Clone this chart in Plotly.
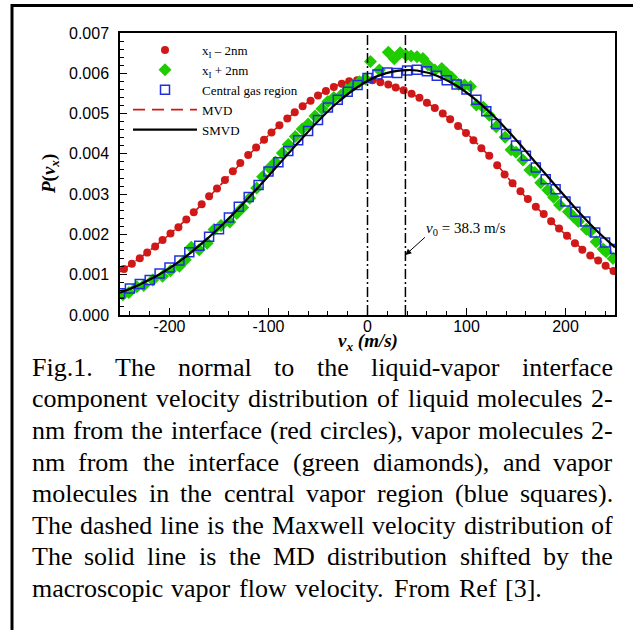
import plotly.graph_objects as go

# ---------------- data ----------------
red_v = [-246, -238, -230, -222.5, -214.5, -207, -199, -191, -183, -175.5,
         -167.5, -160, -152, -144, -136, -128.5, -120.5, -112.5, -104.5, -97,
         -89, -81, -73.5, -65.5, -57.5, -50, -42, -34, -26, -18.5,
         -10.5, -2.5, 5, 13, 21, 28.5, 36.5, 44.5, 52.5, 60,
         68, 76, 83.5, 91.5, 99.5, 107, 115, 123, 131, 138.5,
         146.5, 154.5, 162, 170, 178, 185.5, 193.5, 201.5, 209.5, 217,
         225, 233, 240.5, 248.5]
red_p = [0.00114, 0.00127, 0.00141, 0.00155, 0.00170, 0.00186, 0.00202, 0.00218, 0.00237, 0.00255,
         0.00275, 0.00295, 0.00314, 0.00335, 0.00357, 0.00377, 0.00397, 0.00416, 0.00435, 0.00453,
         0.00471, 0.00488, 0.00503, 0.00518, 0.00532, 0.00545, 0.00556, 0.00566, 0.00574, 0.00580,
         0.00583, 0.00584, 0.00583, 0.00578, 0.00572, 0.00565, 0.00558, 0.00549, 0.00539, 0.00527,
         0.00514, 0.00500, 0.00486, 0.00469, 0.00452, 0.00434, 0.00414, 0.00395, 0.00372, 0.00349,
         0.00327, 0.00307, 0.00288, 0.00269, 0.00251, 0.00233, 0.00215, 0.00197, 0.00178, 0.00162,
         0.00148, 0.00135, 0.00122, 0.00109]

green_v = [-247, -241, -233, -226, -217, -207, -199, -190, -184, -178,
           -170, -162, -155, -148, -139, -132, -126, -119, -112, -106,
           -99, -93, -86, -80, -73, -66, -60, -53, -46, -40,
           -34, -27, -21, -14, -8, -2,
           3, 12, 21, 27, 33, 39, 44, 50, 56, 61,
           68, 75, 80, 85, 92, 98, 104, 110, 117, 123,
           130, 139, 145, 150, 157, 164, 169, 175, 182, 188,
           194, 203, 208, 213, 221, 225, 231, 238, 241, 248]
green_p = [0.00050, 0.00056, 0.00070, 0.00073, 0.00087, 0.00096, 0.00110, 0.00121, 0.00137, 0.00168,
           0.00162, 0.00178, 0.00212, 0.00222, 0.00231, 0.00252, 0.00267, 0.00290, 0.00315, 0.00343,
           0.00365, 0.00380, 0.00402, 0.00423, 0.00443, 0.00462, 0.00474, 0.00494, 0.00512, 0.00530,
           0.00540, 0.00545, 0.00558, 0.00570, 0.00579, 0.00586,
           0.00629, 0.00608, 0.00652, 0.00636, 0.00651, 0.00645, 0.00643, 0.00641, 0.00637, 0.00621,
           0.00608, 0.00612, 0.00600, 0.00590, 0.00573, 0.00571, 0.00567, 0.00521, 0.00516, 0.00496,
           0.00467, 0.00441, 0.00410, 0.00404, 0.00385, 0.00360, 0.00354, 0.00328, 0.00310, 0.00292,
           0.00273, 0.00256, 0.00244, 0.00232, 0.00213, 0.00207, 0.00182, 0.00164, 0.00157, 0.00140]

blue_v = [-250, -240, -230, -220, -210, -200, -190, -180, -170, -160,
          -150, -140, -130, -120, -110, -100, -90, -80, -70, -60,
          -50, -40, -30, -20, -10, 0, 10, 20, 30, 40,
          50, 60, 70, 80, 90, 100, 110, 120, 130, 140,
          150, 160, 170, 180, 190, 200, 210, 220, 230, 240, 250]
blue_p = [0.00054, 0.00066, 0.00077, 0.00087, 0.00103, 0.00118, 0.00135, 0.00156, 0.00172, 0.00194,
          0.00213, 0.00242, 0.00269, 0.00293, 0.00323, 0.00356, 0.00379, 0.00407, 0.00434, 0.00457,
          0.00484, 0.00515, 0.00534, 0.00554, 0.00571, 0.00588, 0.00597, 0.00602, 0.00601, 0.00607,
          0.00609, 0.00605, 0.00594, 0.00583, 0.00572, 0.00560, 0.00534, 0.00506, 0.00474, 0.00449,
          0.00421, 0.00395, 0.00366, 0.00337, 0.00312, 0.00282, 0.00256, 0.00232, 0.00205, 0.00180, 0.00164]

mvd_v = [-250, -225, -200, -175, -150, -125, -100, -75, -50, -25, 0,
         25, 50, 75, 100, 125, 150, 175, 200, 225, 250]
mvd_p = [0.00107, 0.00151, 0.00200, 0.00256, 0.00319, 0.00384, 0.00446, 0.00500, 0.00545, 0.00575, 0.00585,
         0.00569, 0.00542, 0.00501, 0.00451, 0.00389, 0.00318, 0.00257, 0.00200, 0.00148, 0.00107]

smvd_v = [-250, -230, -210, -190, -170, -150, -130, -110, -90, -70, -50, -30, -10,
          10, 30, 40, 50, 70, 90, 110, 130, 150, 170, 190, 210, 230, 250]
smvd_p = [0.00055, 0.00076, 0.00101, 0.00133, 0.00172, 0.00216, 0.00265, 0.00318, 0.00373, 0.00428,
          0.00481, 0.00528, 0.00566, 0.00593, 0.00606, 0.00608, 0.00607, 0.00594, 0.00569, 0.00533,
          0.00488, 0.00435, 0.00378, 0.00321, 0.00265, 0.00213, 0.00168]

V0 = 38.3
ref_lines = [0, V0]
arrow_tip_p = 0.00149
label_v, label_p = 57, 0.00213

x_ticks = [-200, -100, 0, 100, 200]
x_ticklabels = ['-200', '-100', '0', '100', '200']
y_ticks = [0.000, 0.001, 0.002, 0.003, 0.004, 0.005, 0.006, 0.007]
y_ticklabels = ['0.000', '0.001', '0.002', '0.003', '0.004', '0.005', '0.006', '0.007']

legend_names = ['x<sub>I</sub> \u2013 2nm', 'x<sub>I</sub> + 2nm', 'Central gas region', 'MVD', 'SMVD']

caption_lines = [
    "Fig.1. The normal to the liquid-vapor interface",
    "component velocity distribution of liquid molecules 2-",
    "nm from the interface (red circles), vapor molecules 2-",
    "nm from the interface (green diamonds), and vapor",
    "molecules in the central vapor region (blue squares).",
    "The dashed line is the Maxwell velocity distribution of",
    "The solid line is the MD distribution shifted by the",
    "macroscopic vapor flow velocity. From Ref [3].",
]

# ---------------- layout geometry ----------------
W, H = 633, 630
L, R, T, B = 120, 18, 33, 315
PW, PH = W - L - R, H - T - B
PLOT_BOTTOM = H - B


def px(xp):
    return (xp - L) / PW


def py(yp):
    return (PLOT_BOTTOM - yp) / PH


SERIF = "Liberation Serif, Times New Roman, serif"
SANS = "Liberation Sans, Arial, sans-serif"

fig = go.Figure()
fig.add_trace(go.Scatter(x=mvd_v, y=mvd_p, mode='lines', name=legend_names[3], legendrank=4,
                         line=dict(color='#d01818', width=1.6, dash='12px,7px', shape='spline')))
fig.add_trace(go.Scatter(x=red_v, y=red_p, mode='markers', name=legend_names[0], legendrank=1,
                         marker=dict(symbol='circle', size=8, color='#d01818')))
fig.add_trace(go.Scatter(x=green_v, y=green_p, mode='markers', name=legend_names[1], legendrank=2,
                         marker=dict(symbol='diamond', size=10, color='#1fcc00')))
fig.add_trace(go.Scatter(x=blue_v, y=blue_p, mode='markers', name=legend_names[2], legendrank=3,
                         marker=dict(symbol='square-open', size=9, color='#1f2fe0',
                                     line=dict(width=1.5, color='#1f2fe0'))))
fig.add_trace(go.Scatter(x=smvd_v, y=smvd_p, mode='lines', name=legend_names[4], legendrank=5,
                         line=dict(color='black', width=2.2, shape='spline')))

fig.update_layout(
    width=W, height=H,
    margin=dict(l=L, r=R, t=T, b=B, pad=0),
    paper_bgcolor='white', plot_bgcolor='white',
    showlegend=True,
    legend=dict(x=px(128), y=py(35), xanchor='left', yanchor='top',
                bgcolor='rgba(0,0,0,0)', borderwidth=0,
                font=dict(family=SERIF, size=13, color='black'),
                itemwidth=64, tracegroupgap=0),
)

fig.update_xaxes(range=[-250, 250], tickmode='array', tickvals=x_ticks, ticktext=x_ticklabels,
                 ticks='inside', ticklen=7, tickwidth=1, tickcolor='black',
                 showline=True, linecolor='black', linewidth=1.5, mirror=True,
                 showgrid=False, zeroline=False,
                 tickfont=dict(family=SANS, size=16, color='black'),
                 ticklabelstandoff=-4,
                 minor=dict(tickmode='linear', tick0=0, dtick=20, ticks='inside', ticklen=4,
                            tickwidth=1, tickcolor='black', showgrid=False))
fig.update_yaxes(range=[0, 0.007], tickmode='array', tickvals=y_ticks, ticktext=y_ticklabels,
                 ticks='inside', ticklen=7, tickwidth=1, tickcolor='black',
                 showline=True, linecolor='black', linewidth=1.5, mirror=True,
                 showgrid=False, zeroline=False,
                 tickfont=dict(family=SANS, size=16, color='black'),
                 ticklabelstandoff=6,
                 minor=dict(tickmode='linear', tick0=0, dtick=0.0002, ticks='inside', ticklen=4,
                            tickwidth=1, tickcolor='black', showgrid=False))

# reference vertical dash-dot lines
for v in ref_lines:
    fig.add_shape(type='line', xref='x', yref='paper', x0=v, x1=v, y0=0, y1=1,
                  line=dict(color='black', width=1.5, dash='10px,3px,2px,3px'))

# outer frame of the figure
fig.add_shape(type='rect', xref='paper', yref='paper', x0=px(12), x1=px(660), y0=py(660), y1=py(5.5),
              line=dict(color='black', width=3), fillcolor='rgba(0,0,0,0)', layer='above')

# axis titles
fig.add_annotation(text='<b><i>P</i>(<i>v<sub>x</sub></i>)</b>', xref='paper', yref='paper',
                   x=px(50), y=0.5, xanchor='center', yanchor='middle', textangle=-90, showarrow=False,
                   font=dict(family=SERIF, size=19, color='black'))
fig.add_annotation(text='<b><i>v<sub>x</sub> (m/s)</i></b>', xref='paper', yref='paper',
                   x=0.5, y=py(341.5), xanchor='center', yanchor='middle', showarrow=False,
                   font=dict(family=SERIF, size=19, color='black'))

# v0 label and arrow
fig.add_annotation(text='<i>v</i><sub>0</sub> = 38.3 m/s', xref='x', yref='y',
                   x=label_v, y=label_p, xanchor='left', yanchor='middle', showarrow=False,
                   font=dict(family=SERIF, size=15, color='black'))
fig.add_annotation(text='', xref='x', yref='y', x=V0, y=arrow_tip_p, ax=21, ay=-19,
                   showarrow=True, arrowhead=2, arrowsize=1.2, arrowwidth=1, arrowcolor='black',
                   standoff=0)

# caption, justified word by word
TIMES_W = {' ': 250, '!': 333, '(': 333, ')': 333, ',': 250, '-': 333, '.': 250, '/': 278,
           ':': 278, ';': 278, '[': 333, ']': 333,
           'A': 722, 'B': 667, 'C': 667, 'D': 722, 'E': 611, 'F': 556, 'G': 722, 'H': 722,
           'I': 333, 'J': 389, 'K': 722, 'L': 611, 'M': 889, 'N': 722, 'O': 722, 'P': 556,
           'Q': 722, 'R': 667, 'S': 556, 'T': 611, 'U': 722, 'V': 722, 'W': 944, 'X': 722,
           'Y': 722, 'Z': 611,
           'a': 444, 'b': 500, 'c': 444, 'd': 500, 'e': 444, 'f': 333, 'g': 500, 'h': 500,
           'i': 278, 'j': 278, 'k': 500, 'l': 278, 'm': 778, 'n': 500, 'o': 500, 'p': 500,
           'q': 500, 'r': 333, 's': 389, 't': 278, 'u': 500, 'v': 500, 'w': 722, 'x': 500,
           'y': 500, 'z': 444}
CAP_FS = 26
CAP_LEFT = 31.5
CAP_RIGHT = [613, 613, 613, 613, 613, 613, 613, 541.5]
CAP_BASE0, CAP_STEP = 375, 31.6


def tw(s):
    return sum(TIMES_W.get(c, 500) for c in s) * CAP_FS / 1000.0


for i, line in enumerate(caption_lines):
    words = line.split(' ')
    widths = [tw(w) for w in words]
    gap = (CAP_RIGHT[i] - CAP_LEFT - sum(widths)) / (len(words) - 1)
    ymid = CAP_BASE0 + i * CAP_STEP - 0.3 * CAP_FS
    x = CAP_LEFT
    for j, (w, wd) in enumerate(zip(words, widths)):
        last = j == len(words) - 1
        fig.add_annotation(text=w, xref='paper', yref='paper',
                           x=px(CAP_RIGHT[i] if last else x), y=py(ymid),
                           xanchor='right' if last else 'left', yanchor='middle',
                           showarrow=False, borderpad=0, borderwidth=0,
                           font=dict(family=SERIF, size=CAP_FS, color='black'))
        x += wd + gap

fig.write_html("out.html", config={'displayModeBar': False},
               post_script="document.body.style.margin='0px';")
